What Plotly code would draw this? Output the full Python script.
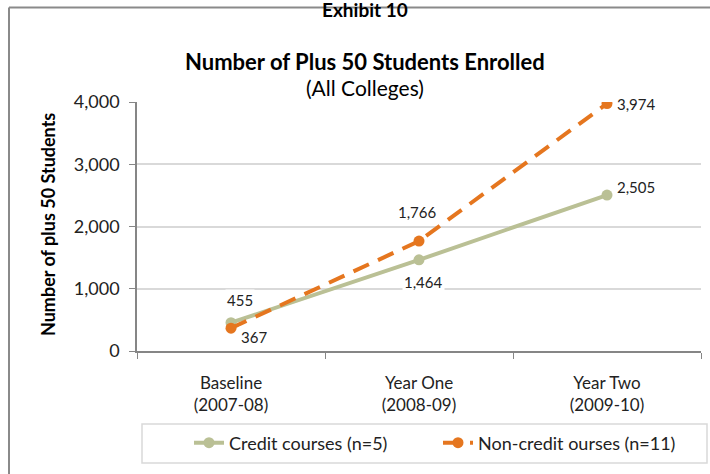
import plotly.graph_objects as go

categories = ["Baseline<br>(2007-08)", "Year One<br>(2008-09)", "Year Two<br>(2009-10)"]
credit = [455, 1464, 2505]
noncredit = [367, 1766, 3974]
credit_name = "Credit courses (n=5)"
noncredit_name = "Non-credit ourses (n=11)"
credit_offsets = [(9, -23), (4, 22), (29, -8)]
noncredit_offsets = [(23, 9), (-2, -29), (29, 0)]

GREEN = "#BAC095"
ORANGE = "#E5761F"
FONT = "Lato, 'Open Sans', sans-serif"

L, R, T, B = 137, 9, 102, 123
W, H = 710, 474
pw, ph = W - L - R, H - T - B

def px(x):
    return (x - L) / pw

def py(y):
    return (H - B - y) / ph

fig = go.Figure()
fig.add_trace(go.Scatter(x=categories, y=credit, name=credit_name, mode="lines+markers",
                         line=dict(color=GREEN, width=4), marker=dict(size=11, color=GREEN)))
fig.add_trace(go.Scatter(x=categories, y=noncredit, name=noncredit_name, mode="lines+markers",
                         line=dict(color=ORANGE, width=4, dash="17px,10px"),
                         marker=dict(size=11, color=ORANGE)))

anns = []
for cat, v, (dx, dy) in zip(categories, credit, credit_offsets):
    anns.append(dict(x=cat, y=v, xref="x", yref="y", text=f"{v:,}", showarrow=False,
                     xshift=dx, yshift=-dy, bgcolor="white", borderpad=1,
                     font=dict(family=FONT, size=15, color="#222")))
for cat, v, (dx, dy) in zip(categories, noncredit, noncredit_offsets):
    anns.append(dict(x=cat, y=v, xref="x", yref="y", text=f"{v:,}", showarrow=False,
                     xshift=dx, yshift=-dy, bgcolor="white", borderpad=1,
                     font=dict(family=FONT, size=15, color="#222")))

anns += [
    dict(x=px(365), y=py(-4), xref="paper", yref="paper", text="<b>Exhibit 10</b>", showarrow=False,
         font=dict(family=FONT, size=19, color="black")),
    dict(x=px(365), y=py(46), xref="paper", yref="paper", text="<b>Number of Plus 50 Students Enrolled</b>",
         showarrow=False, font=dict(family=FONT, size=22, color="black")),
    dict(x=px(365), y=py(73), xref="paper", yref="paper", text="(All Colleges)",
         showarrow=False, font=dict(family=FONT, size=21, color="black")),
    dict(x=px(35), y=py(225), xref="paper", yref="paper", text="<b>Number of plus 50 Students</b>",
         showarrow=False, textangle=-90, font=dict(family=FONT, size=18, color="black")),
]

shapes = [
    dict(type="line", xref="paper", yref="paper", x0=px(9), x1=px(9), y0=py(7.5), y1=py(480),
         line=dict(color="#8A8A8A", width=2)),
    dict(type="line", xref="paper", yref="paper", x0=px(9), x1=px(715), y0=py(7.5), y1=py(7.5),
         line=dict(color="#8A8A8A", width=2)),
    dict(type="rect", xref="paper", yref="paper", x0=px(142), x1=px(707), y0=py(424), y1=py(463),
         line=dict(color="#D9D9D9", width=1.5), fillcolor="rgba(0,0,0,0)"),
]

fig.update_layout(
    width=W, height=H, margin=dict(l=L, r=R, t=T, b=B),
    paper_bgcolor="white", plot_bgcolor="white",
    font=dict(family=FONT, size=16, color="#222"),
    showlegend=True,
    legend=dict(orientation="h", x=px(189), y=py(443), xanchor="left", yanchor="middle",
                font=dict(family=FONT, size=18, color="#222"), entrywidth=204, entrywidthmode="pixels",
                bgcolor="rgba(0,0,0,0)", borderwidth=0, traceorder="normal"),
    annotations=anns, shapes=shapes,
    xaxis=dict(type="category", range=[-0.5, 2.5], showgrid=False, showline=True, linecolor="#868686",
               linewidth=1.5, ticks="outside", tickson="boundaries", ticklen=6, tickcolor="#868686",
               ticklabelstandoff=16,
               tickfont=dict(family=FONT, size=17, color="#222"), fixedrange=True),
    yaxis=dict(range=[0, 4000], dtick=1000, tickformat=",", showgrid=True, gridcolor="#D9D9D9",
               gridwidth=1.5, showline=True, linecolor="#868686", linewidth=1.5, ticks="outside",
               ticklen=6, tickcolor="#868686", zeroline=False, ticklabelstandoff=6,
               tickfont=dict(family=FONT, size=18, color="#222")),
)

fig.write_html("out.html", config={"displayModeBar": False},
               post_script="document.body.style.margin='0';document.body.style.overflow='hidden';")
